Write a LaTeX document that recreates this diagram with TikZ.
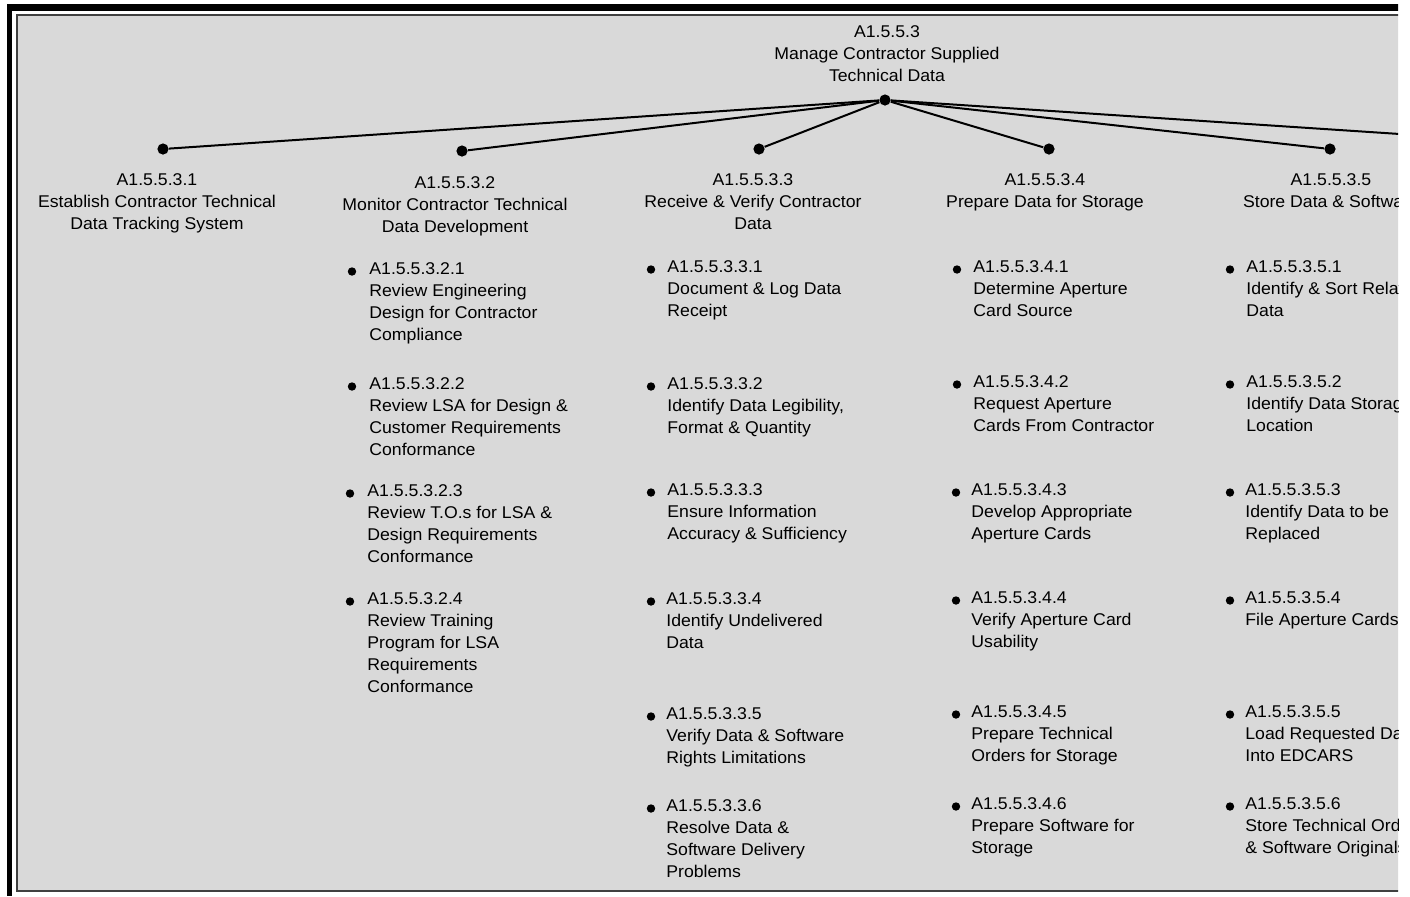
\documentclass[tikz,border=0pt]{standalone}
\usepackage{fontspec}
\setmainfont{Liberation Sans}[FakeStretch=1.04]
\begin{document}
\begin{tikzpicture}[x=0.5pt,y=-0.5pt,
  bg/.style={fill={rgb,255:red,217;green,217;blue,217}},
  dot/.style={circle,fill=black,inner sep=0pt,minimum size=5.6pt},
  bulletdot/.style={circle,fill=black,inner sep=0pt,minimum size=4.2pt},
  link/.style={line width=1pt,black},
  title/.style={align=center,anchor=north,inner sep=0pt,
    font=\fontsize{8.5pt}{11pt}\selectfont},
  item/.style={align=left,anchor=north west,inner sep=0pt,
    font=\fontsize{8.5pt}{11pt}\selectfont}]
\newcommand\wbsitem[5]{%
  \node[bulletdot] (#1b) at (#2,{#4-2.5}) {};
  \node[item] (#1) at (#3,{#4-12}) {#5};}
\useasboundingbox (0,0) rectangle (1410,896);
\begin{scope}
\clip (0,0) rectangle (1398,896);
% outer frame bars
\fill[black] (6.5,4) rectangle (12,896);
\fill[black] (6.5,4) rectangle (1420,10.5);
% panel
\draw[bg,draw=black!75,line width=1.3pt] (17,15) rectangle (1440,891);

% parent and its children
\node[title] (roottext) at (887,25.5) {A1.5.5.3\\Manage Contractor Supplied\\Technical Data};
\node[dot] (root) at (885,100) {};
\node[dot] (c1) at (163,149) {};
\node[dot] (c2) at (462,151) {};
\node[dot] (c3) at (759,149) {};
\node[dot] (c4) at (1049,149) {};
\node[dot] (c5) at (1330,149) {};
\node[dot] (c6) at (1627,149) {};
\foreach \c in {c1,c2,c3,c4,c5,c6} \draw[link] (root) -- (\c);

\node[title] (t1) at (157,173) {A1.5.5.3.1\\Establish Contractor Technical\\Data Tracking System};
\node[title] (t2) at (455,176) {A1.5.5.3.2\\Monitor Contractor Technical\\Data Development};
\node[title] (t3) at (753,173) {A1.5.5.3.3\\Receive \& Verify Contractor\\Data};
\node[title] (t4) at (1045,173) {A1.5.5.3.4\\Prepare Data for Storage};
\node[title] (t5) at (1331,173) {A1.5.5.3.5\\Store Data \& Software};

% column 2
\wbsitem{i21}{352}{369}{274}{A1.5.5.3.2.1\\Review Engineering\\Design for Contractor\\Compliance}
\wbsitem{i22}{352}{369}{389}{A1.5.5.3.2.2\\Review LSA for Design \&\\Customer Requirements\\Conformance}
\wbsitem{i23}{350}{367}{496}{A1.5.5.3.2.3\\Review T.O.s for LSA \&\\Design Requirements\\Conformance}
\wbsitem{i24}{350}{367}{604}{A1.5.5.3.2.4\\Review Training\\Program for LSA\\Requirements\\Conformance}

% column 3
\wbsitem{i31}{651}{667}{272}{A1.5.5.3.3.1\\Document \& Log Data\\Receipt}
\wbsitem{i32}{651}{667}{389}{A1.5.5.3.3.2\\Identify Data Legibility,\\Format \& Quantity}
\wbsitem{i33}{651}{667}{495}{A1.5.5.3.3.3\\Ensure Information\\Accuracy \& Sufficiency}
\wbsitem{i34}{651}{666}{604}{A1.5.5.3.3.4\\Identify Undelivered\\Data}
\wbsitem{i35}{651}{666}{719}{A1.5.5.3.3.5\\Verify Data \& Software\\Rights Limitations}
\wbsitem{i36}{651}{666}{811}{A1.5.5.3.3.6\\Resolve Data \&\\Software Delivery\\Problems}

% column 4
\wbsitem{i41}{957}{973}{272}{A1.5.5.3.4.1\\Determine Aperture\\Card Source}
\wbsitem{i42}{957}{973}{387}{A1.5.5.3.4.2\\Request Aperture\\Cards From Contractor}
\wbsitem{i43}{956}{971}{495}{A1.5.5.3.4.3\\Develop Appropriate\\Aperture Cards}
\wbsitem{i44}{956}{971}{603}{A1.5.5.3.4.4\\Verify Aperture Card\\Usability}
\wbsitem{i45}{956}{971}{717}{A1.5.5.3.4.5\\Prepare Technical\\Orders for Storage}
\wbsitem{i46}{956}{971}{809}{A1.5.5.3.4.6\\Prepare Software for\\Storage}

% column 5
\wbsitem{i51}{1230}{1246}{272}{A1.5.5.3.5.1\\Identify \& Sort Related\\Data}
\wbsitem{i52}{1230}{1246}{387}{A1.5.5.3.5.2\\Identify Data Storage\\Location}
\wbsitem{i53}{1230}{1245}{495}{A1.5.5.3.5.3\\Identify Data to be\\Replaced}
\wbsitem{i54}{1230}{1245}{603}{A1.5.5.3.5.4\\File Aperture Cards}
\wbsitem{i55}{1230}{1245}{717}{A1.5.5.3.5.5\\Load Requested Data\\Into EDCARS}
\wbsitem{i56}{1230}{1245}{809}{A1.5.5.3.5.6\\Store Technical Orders\\\& Software Originals}
\end{scope}
\end{tikzpicture}
\end{document}
